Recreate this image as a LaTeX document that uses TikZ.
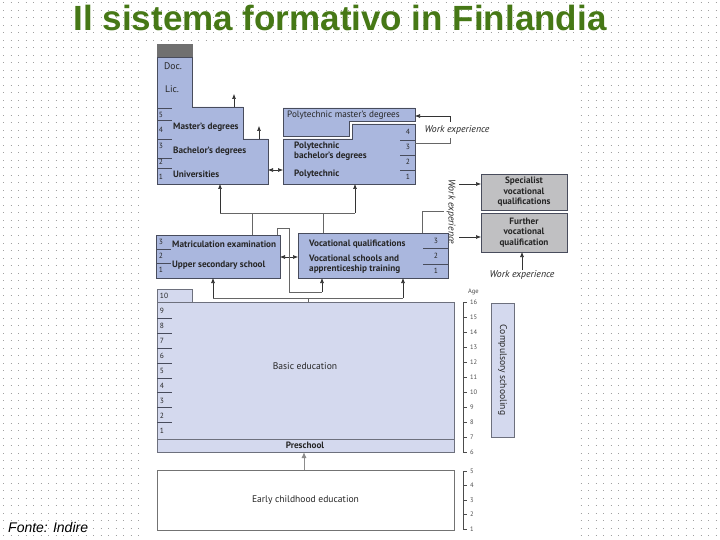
\documentclass[tikz,border=0pt]{standalone}
\usepackage{fontspec}
\setmainfont{PT Sans}
\newfontfamily\arialfont{Liberation Sans}
\usetikzlibrary{arrows.meta}
\definecolor{ublue}{RGB}{170,183,222}
\definecolor{lblue}{RGB}{212,217,238}
\definecolor{bord}{RGB}{72,76,92}
\definecolor{gbox}{RGB}{192,192,194}
\definecolor{dgray}{RGB}{112,112,112}
\definecolor{titleg}{RGB}{70,120,22}
\definecolor{dotc}{RGB}{160,160,160}
\tikzset{
 ublk/.style={draw=bord, line width=0.9pt, fill=ublue},
 lblk/.style={draw=bord!80, line width=0.9pt, fill=lblue},
 gblk/.style={draw=bord, line width=0.9pt, fill=gbox},
 divl/.style={draw=bord, line width=0.6pt},
 lbl/.style={font=\fontsize{9.6}{10}\selectfont, inner sep=0pt, text=black!85},
 bl/.style={font=\fontsize{9.2}{10}\selectfont\bfseries, inner sep=0pt, text=black!85},
 itl/.style={font=\fontsize{9.8}{10}\selectfont\itshape, inner sep=0pt, text=black!85},
 num/.style={font=\fontsize{7.5}{8}\selectfont, inner sep=0pt, text=black!85},
 age/.style={font=\fontsize{6.5}{7}\selectfont, inner sep=0pt, text=black!70, anchor=west},
 arr/.style={-{Latex[length=5pt,width=4pt]}, line width=0.6pt, draw=black!80},
 darr/.style={{Latex[length=5pt,width=4pt]}-{Latex[length=5pt,width=4pt]}, line width=0.6pt, draw=black!80},
 conn/.style={line width=0.6pt, draw=black!60},
 hold/.style={inner sep=0pt, outer sep=0pt, anchor=north west},
}
\begin{document}
\begin{tikzpicture}[x=1pt,y=-1pt]
\useasboundingbox (0,0) rectangle (720,540);
\fill[white] (0,0) rectangle (720,540);
\foreach \yy in {3,10.5,...,540} \draw[dotc, line width=1pt, dash pattern=on 1pt off 6.5pt] (3,\yy) -- (720,\yy);
\fill[white] (145,41) rectangle (576,540);

% title and source
\node[font=\arialfont\bfseries\fontsize{35}{40}\selectfont, text=titleg, inner sep=0pt] (title) at (340,18) {Il sistema formativo in Finlandia};
\node[font=\arialfont\itshape\fontsize{14}{16}\selectfont, anchor=west, inner sep=0pt] (fonte) at (8,527) {Fonte: Indire};

% ---------- Universities ----------
\draw[ublk] (157,57) -- (192,57) -- (192,107) -- (243,107) -- (243,139) -- (268,139) -- (268,184) -- (157,184) -- cycle;
\fill[dgray] (156.5,44) rectangle (192.5,57);
\node[hold, minimum width=111pt, minimum height=45pt] (univ) at (157,139) {};
\foreach \yy in {108,120,139,158,168} \draw[divl] (157,\yy) -- (172,\yy);
\foreach \n/\yy in {5/115,4/130,3/146,2/162,1/177} \node[num] (un\n) at (161,\yy) {\n};
\node[lbl] (doc) at (173,66) {Doc.};
\node[lbl] (lic) at (172,89) {Lic.};
\node[bl, anchor=west] (mast) at (173,127) {Master's degrees};
\node[bl, anchor=west] (bach) at (173,151) {Bachelor's degrees};
\node[bl, anchor=west] (unis) at (173,174) {Universities};
\coordinate (ua1s) at (234,107); \coordinate (ua1) at (234,94);
\coordinate (ua2s) at (259,139); \coordinate (ua2) at (259,126);
\draw[arr] (ua1s) -- (ua1);
\draw[arr] (ua2s) -- (ua2);

% ---------- Polytechnics ----------
\draw[ublk] (283,108) -- (415,108) -- (415,121) -- (349,121) -- (349,136) -- (283,136) -- cycle;
\draw[ublk] (283,139) -- (352,139) -- (352,124) -- (415,124) -- (415,184) -- (283,184) -- cycle;
\node[hold, minimum width=132pt, minimum height=45pt] (poly) at (283,139) {};
\foreach \yy in {140,155,170} \draw[divl] (400,\yy) -- (415,\yy);
\foreach \n/\yy in {4/132,3/147,2/162,1/177} \node[num] (pn\n) at (408,\yy) {\n};
\node[lbl, anchor=west, font=\fontsize{9.2}{10}\selectfont] (pmast) at (287,115) {Polytechnic master's degrees};
\node[bl, anchor=west] (pbach1) at (294,146) {Polytechnic};
\node[bl, anchor=west] (pbach2) at (294,156) {bachelor's degrees};
\node[bl, anchor=west] (polys) at (294,174) {Polytechnic};
\draw[darr] (univ.east |- 0,170) -- (poly.west |- 0,170);

% work experience (polytechnic master)
\node[itl] (we1) at (457,130) {Work experience};
\coordinate (w1a) at (450,143); \coordinate (w1b) at (450,138);
\coordinate (w1c) at (450,122); \coordinate (w1d) at (450,116);
\draw[conn] (poly.east |- w1a) -- (w1a) -- (w1b);
\draw[arr] (w1c) -- (w1d) -- (415,116);

% ---------- Specialist / further ----------
\node[gblk, hold, minimum width=86pt, minimum height=36pt] (spec) at (481,174) {};
\node[bl, align=center, font=\fontsize{9.2}{10.6}\selectfont\bfseries] (spect) at (spec.center) {Specialist\\vocational\\qualifications};
\node[gblk, hold, minimum width=86pt, minimum height=39pt] (furt) at (481,213) {};
\node[bl, align=center, font=\fontsize{9.2}{10.8}\selectfont\bfseries] (furtt) at (furt.center) {Further\\vocational\\qualification};
\node[itl, rotate=-90] (we2) at (451,212) {Work experience};
\coordinate (w2a) at (459,184); \coordinate (w2b) at (459,237);
\draw[arr] (w2a) -- (spec.west |- w2a);
\draw[arr] (w2b) -- (furt.west |- w2b);
\node[itl] (we3) at (522,275) {Work experience};
\draw[arr] (we3.north) -- (furt.south -| we3.north);

% ---------- Upper secondary ----------
\node[ublk, hold, minimum width=124pt, minimum height=43pt] (upsec) at (156,235) {};
\foreach \yy in {249,263} \draw[divl] (156,\yy) -- (171,\yy);
\foreach \n/\yy in {3/242,2/256,1/270} \node[num] (sn\n) at (161,\yy) {\n};
\node[bl, anchor=west] (matr) at (172,244) {Matriculation examination};
\node[bl, anchor=west] (upss) at (172,265) {Upper secondary school};

% ---------- Vocational ----------
\node[ublk, hold, minimum width=150pt, minimum height=45pt] (voc) at (298,233) {};
\foreach \yy in {248,264} \draw[divl] (423,\yy) -- (448,\yy);
\foreach \n/\yy in {3/241,2/256,1/271} \node[num] (vn\n) at (436,\yy) {\n};
\node[bl, anchor=west] (vq) at (309,244) {Vocational qualifications};
\node[bl, anchor=west, align=left, font=\fontsize{9.2}{10}\selectfont\bfseries] (vs) at (309,264) {Vocational schools and\\apprenticeship training};
\draw[darr] (upsec.east |- 0,257) -- (voc.west |- 0,257);

% connectors middle -> higher
\coordinate (j1) at (252,213); \coordinate (j2) at (323,213);
\coordinate (jl) at (220,213); \coordinate (jr) at (355,213);
\draw[conn] (upsec.north -| j1) -- (j1);
\draw[conn] (voc.north -| j2) -- (j2);
\draw[conn] (jl) -- (jr);
\draw[arr] (jl) -- (univ.south -| jl);
\draw[arr] (jr) -- (poly.south -| jr);
% vocational -> work experience
\coordinate (vw) at (422,211);
\draw[conn] (voc.north -| vw) -- (vw) -- (444,211);
% upper secondary -> vocational
\coordinate (t1) at (277,228); \coordinate (t2) at (289,228);
\coordinate (t3) at (289,292); \coordinate (t4) at (322,292);
\draw[conn] (upsec.north -| t1) -- (t1) -- (t2) -- (t3) -- (t4);
\draw[arr] (t4) -- (voc.south -| t4);

% ---------- Basic education ----------
\node[lblk, hold, minimum width=35pt, minimum height=13pt] (ten) at (157,289) {};
\node[num] (tenl) at (164,295.5) {10};
\node[lblk, hold, minimum width=297pt, minimum height=150pt] (basic) at (157,302) {};
\draw[draw=bord!80, line width=0.9pt] (157,439) -- (454,439);
\foreach \yy in {318,333,348,363,378,392,407,422} \draw[divl] (157,\yy) -- (172,\yy);
\foreach \n/\yy in {9/311,8/326,7/341,6/356,5/371,4/386,3/401,2/416,1/431} \node[num] (bn\n) at (162,\yy) {\n};
\node[lbl] (bedu) at (305,366) {Basic education};
\node[bl] (pres) at (305,445.5) {Preschool};
\coordinate (b1) at (213,298); \coordinate (b2) at (403,298); \coordinate (b0) at (308,298);
\draw[conn] (b1) -- (b2);
\draw[conn] (b0) -- (basic.north -| b0);
\draw[arr] (b1) -- (upsec.south -| b1);
\draw[arr] (b2) -- (voc.south -| b2);

% ---------- Early childhood ----------
\node[draw=black!55, line width=0.9pt, fill=white, hold, minimum width=297pt, minimum height=60pt] (early) at (157,470) {};
\node[lbl] (earlyt) at (early.center) {Early childhood education};
\draw[-{Latex[length=6pt,width=5pt]}, line width=1pt, draw=black!45] (early.north -| 304,0) -- (basic.south -| 304,0);

% ---------- Age scale ----------
\node[age] (agel) at (468,292) {Age};
\draw[line width=0.6pt, draw=black!70] (463,302) -- (463,452);
\foreach \a/\yy in {16/302,15/317,14/332,13/347,12/362,11/377,10/392,9/407,8/422,7/437,6/452} {
  \draw[line width=0.6pt, draw=black!70] (463,\yy) -- (467,\yy);
  \node[age] (ag\a) at (470,\yy) {\a};
}
\draw[line width=0.6pt, draw=black!70] (463,471) -- (463,529);
\foreach \a/\yy in {5/471,4/485,3/500,2/514,1/529} {
  \draw[line width=0.6pt, draw=black!70] (463,\yy) -- (467,\yy);
  \node[age] (ae\a) at (470,\yy) {\a};
}
\node[lblk, hold, minimum width=23pt, minimum height=134pt] (comp) at (491,303) {};
\node[lbl, rotate=-90] (compt) at (comp.center) {Compulsory schooling};
\end{tikzpicture}
\end{document}
